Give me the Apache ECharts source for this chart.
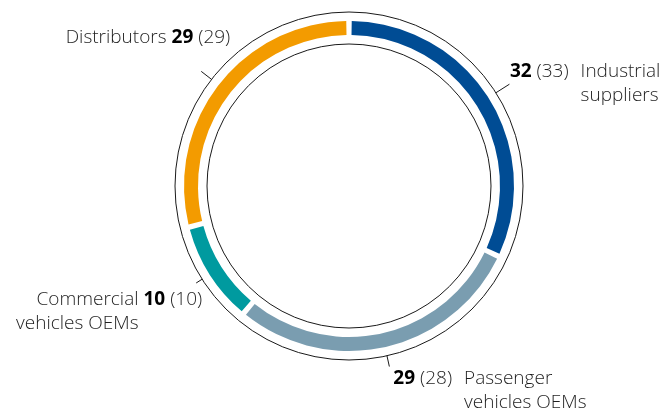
<!DOCTYPE html>
<html>
<head>
<meta charset="utf-8">
<script src="https://cdn.jsdelivr.net/npm/echarts@6/dist/echarts.min.js"></script>
<style>
  html, body { margin: 0; padding: 0; background: #ffffff; }
  #chart { width: 663px; height: 414px; }
</style>
</head>
<body>
<div id="chart"></div>
<script>
// Sales by customer group, share in percent (previous year in brackets)
const groupLines = [
  ['Industrial', 'suppliers'],
  ['Passenger', 'vehicles OEMs'],
  ['Commercial', 'vehicles OEMs'],
  ['Distributors']
];
const currentShare = [32, 29, 10, 29];
const priorShare = [33, 28, 10, 29];

const ringColors = ['#004c94', '#7a9db0', '#009a9f', '#f39b00'];
const FONT = "'Open Sans', 'Liberation Sans', sans-serif";
const FONT_SIZE = 19;
const TEXT_COLOR = '#1f1f1f';

// tick length and label nudge (dx, dy) for each group
const tickLength = [16, 11, 7, 13];
const labelNudge = [[-4.5, -1], [-1, 24.5], [11, 28.5], [34, -34]];

const total = currentShare.reduce((a, b) => a + b, 0);
// which side of the ring the label sits on, from the slice's middle position
const onRight = [];
let acc = 0;
currentShare.forEach(function (v) {
  onRight.push((acc + v / 2) / total < 0.5);
  acc += v;
});

function labelText(i) {
  const v = currentShare[i], p = priorShare[i], lines = groupLines[i];
  let s;
  if (onRight[i]) {
    s = '{v|' + v + '}{s| }{p|(' + p + ')}{g|}{n|' + lines[0] + '}';
    for (let k = 1; k < lines.length; k++) {
      s += '\n{vh|' + v + '}{s| }{ph|(' + p + ')}{g|}{n|' + lines[k] + '}';
    }
  } else {
    s = '{n|' + lines[0] + '}{g2|}{v|' + v + '}{s| }{p|(' + p + ')}';
    for (let k = 1; k < lines.length; k++) {
      s += '\n{n|' + lines[k] + '}{g2|}{vh|' + v + '}{s| }{ph|(' + p + ')}';
    }
  }
  return s;
}

const textBase = { fontFamily: FONT, fontSize: FONT_SIZE, lineHeight: 24 };
const rich = {
  v: Object.assign({ color: '#000000', fontWeight: 'bold' }, textBase),
  vh: Object.assign({ color: 'rgba(0,0,0,0)', fontWeight: 'bold' }, textBase),
  p: Object.assign({ color: TEXT_COLOR, fontWeight: 300 }, textBase),
  ph: Object.assign({ color: 'rgba(0,0,0,0)', fontWeight: 300 }, textBase),
  n: Object.assign({ color: TEXT_COLOR, fontWeight: 300 }, textBase),
  s: Object.assign({ color: TEXT_COLOR, fontWeight: 300 }, textBase),
  g: Object.assign({ width: 12 }, textBase),
  g2: Object.assign({ width: 5 }, textBase)
};

const center = [349, 186];

const chart = echarts.init(document.getElementById('chart'), null, { renderer: 'canvas' });
chart.setOption({
  animation: false,
  backgroundColor: '#ffffff',
  series: [
    {
      // thin outer and inner rings
      type: 'pie',
      silent: true,
      center: center,
      radius: [142, 174],
      z: 1,
      label: { show: false },
      labelLine: { show: false },
      itemStyle: { color: 'rgba(0,0,0,0)', borderColor: '#1a1a1a', borderWidth: 1 },
      data: [{ value: 1, name: 'frame' }]
    },
    {
      // coloured share ring
      type: 'pie',
      silent: true,
      center: center,
      radius: [151, 165],
      startAngle: 90,
      clockwise: true,
      padAngle: 1.9,
      z: 2,
      label: { show: false },
      labelLine: { show: false },
      data: currentShare.map(function (v, i) {
        return { value: v, name: groupLines[i].join(' '), itemStyle: { color: ringColors[i] } };
      })
    },
    {
      // labels with short ticks off the outer ring
      type: 'pie',
      silent: true,
      center: center,
      radius: [142, 174],
      startAngle: 90,
      clockwise: true,
      avoidLabelOverlap: false,
      z: 3,
      itemStyle: { color: 'rgba(0,0,0,0)' },
      label: {
        show: true,
        position: 'outside',
        fontFamily: FONT,
        fontSize: FONT_SIZE,
        lineHeight: 24,
        color: TEXT_COLOR,
        formatter: function (p) { return labelText(p.dataIndex); },
        rich: rich
      },
      labelLine: {
        show: true,
        length2: 0,
        lineStyle: { color: '#1a1a1a', width: 1 }
      },
      labelLayout: function (p) {
        const i = p.dataIndex;
        const r = p.labelRect;
        const right = onRight[i];
        return {
          x: (right ? r.x : r.x + r.width) + labelNudge[i][0],
          y: r.y + r.height / 2 + labelNudge[i][1],
          align: right ? 'left' : 'right',
          verticalAlign: 'middle',
          labelLinePoints: p.labelLinePoints
        };
      },
      data: currentShare.map(function (v, i) {
        return {
          value: v,
          name: groupLines[i].join(' '),
          labelLine: { length: tickLength[i] }
        };
      })
    }
  ]
});
</script>
</body>
</html>
